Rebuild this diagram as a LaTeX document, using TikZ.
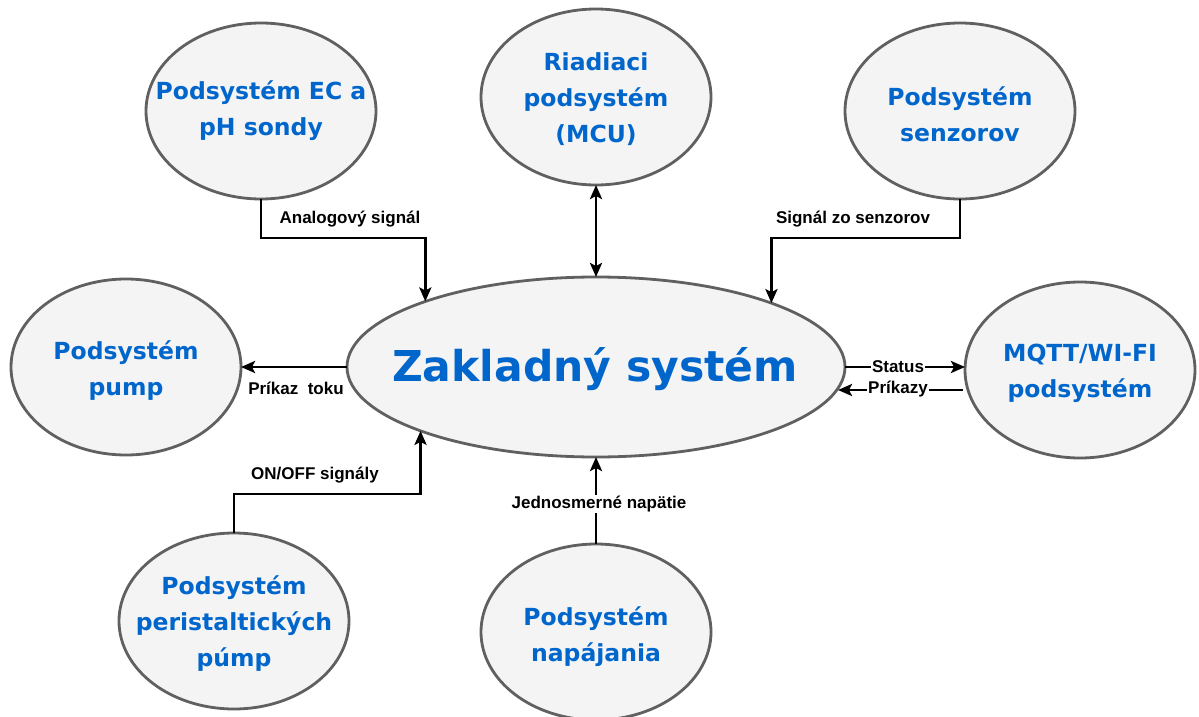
\documentclass[tikz,border=0pt]{standalone}
\usepackage{fontspec}
\setmainfont{DejaVu Sans}
\newfontfamily\lblfont{Liberation Sans}
\usetikzlibrary{shapes.geometric,arrows.meta,calc}
\definecolor{nodeblue}{HTML}{0066CC}
\definecolor{nodefill}{HTML}{F4F4F4}
\definecolor{nodeborder}{HTML}{606060}
\tikzset{
 sub/.style={ellipse, draw=nodeborder, fill=nodefill, line width=2.8pt, minimum width=230pt, minimum height=176pt, inner sep=0pt, outer sep=0pt},
 subtext/.style={text=nodeblue, font=\bfseries\fontsize{23.5}{36}\selectfont, align=center, inner sep=0pt},
 >={Stealth[length=14pt,width=12pt,inset=3pt]},
 arr/.style={line width=2.8pt, ->},
 lbl/.style={font=\lblfont\bfseries\fontsize{17}{18}\selectfont, inner sep=1pt},
 lblw/.style={lbl, fill=white},
}
\begin{document}
\begin{tikzpicture}[x=1pt,y=1pt]
\useasboundingbox (0,0) rectangle (1199,-717);
% ellipses
\node[sub, minimum width=498pt, minimum height=180pt] (c) at (596,-367) {};
\node[subtext, font=\bfseries\fontsize{42.5}{50}\selectfont] (ct) at (595,-369) {Zakladný systém};
\node[sub] (ec) at (261,-111) {};
\node[subtext] (ect) at (ec) {Podsystém EC a\\pH sondy};
\node[sub] (mcu) at (596,-97) {};
\node[subtext] (mcut) at (596,-99) {Riadiaci\\podsystém\\(MCU)};
\node[sub] (sen) at (960,-111) {};
\node[subtext] (sent) at (960,-114) {Podsystém\\senzorov};
\node[sub] (pump) at (126,-367) {};
\node[subtext] (pumpt) at (126,-371) {Podsystém\\pump};
\node[sub] (mqtt) at (1080,-370) {};
\node[subtext] (mqttt) at (1080,-373) {MQTT/WI-FI\\podsystém};
\node[sub] (per) at (234,-621) {};
\node[subtext] (pert) at (234,-624) {Podsystém\\peristaltických\\púmp};
\node[sub] (nap) at (596,-632) {};
\node[subtext] (napt) at (596,-637) {Podsystém\\napájania};
% connectors
\draw[arr] (ec.south) -- ++(0,-39) -| (c.159.9);
\node[lbl] (l1) at (350,-219) {Analogový signál};
\draw[arr, <->] (mcu.south) -- (c.north);
\draw[arr] (sen.south) -- ++(0,-39) -| (c.20.2);
\node[lbl] (l2) at (853,-219) {Signál zo senzorov};
\draw[arr] (c.west) -- (pump.east);
\node[lbl] (l3) at (296,-388) {Príkaz~~toku};
\draw[arr] (per.north) -- ++(0,39) -| (c.200.1);
\node[lbl] (l4) at (315,-475) {ON/OFF signály};
\draw[arr] (nap.north) -- (c.south);
\node[lblw] (l5) at (599,-504) {Jednosmerné napätie};
\draw[arr] (c.east) -- (c.east -| mqtt.west);
\node[lblw] (l6) at (898,-367) {Status};
\coordinate (pk) at ($(mqtt.west)+(-2,-20)$);
\draw[arr] (pk) -- (pk -| c.-5.46);
\node[lblw] (l7) at (898,-389) {Príkazy};
\end{tikzpicture}
\end{document}
